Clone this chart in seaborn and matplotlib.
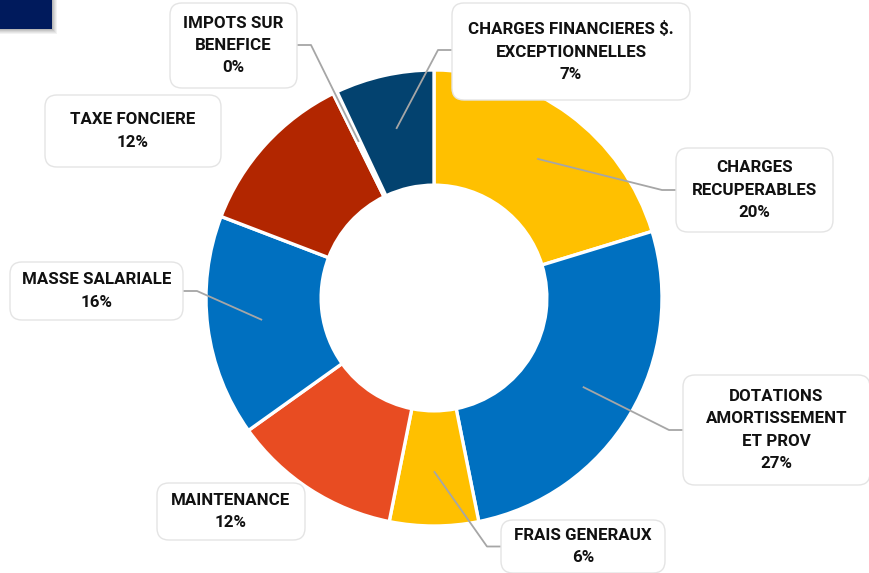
import matplotlib
matplotlib.use("Agg")
import matplotlib.pyplot as plt
from matplotlib.patches import FancyBboxPatch, Rectangle
import numpy as np
import seaborn as sns

categories = ["CHARGES\nRECUPERABLES", "DOTATIONS\nAMORTISSEMENT\nET PROV", "FRAIS GENERAUX",
              "MAINTENANCE", "MASSE SALARIALE", "TAXE FONCIERE", "IMPOTS SUR\nBENEFICE",
              "CHARGES FINANCIERES $.\nEXCEPTIONNELLES"]
values = [20.3, 26.6, 6.3, 12.0, 15.7, 11.9, 0.3, 7.0]
colors = ["#FFC000", "#0070C0", "#FFC000", "#E84C22", "#0070C0", "#B22600", "#FFFFFF", "#03426F"]

# layout: box (x0, y0, x1, y1) in pixels from top-left, and leader flag
boxes = [(676, 148, 833, 232), (683, 375, 870, 485), (501, 520, 665, 573),
         (157, 483, 305, 540), (10, 262, 183, 320), (45, 95, 221, 167),
         (170, 3, 297, 88), (452, 3, 690, 100)]
leader = [True, True, True, False, True, False, True, True]

sns.set_theme(style="white")
plt.rcParams['font.family'] = ['Roboto', 'DejaVu Sans']

W, H = 870, 573
fig = plt.figure(figsize=(W / 100, H / 100), dpi=100)
ax = fig.add_axes([0, 0, 1, 1])

cx, cy = 434, H - 298
R = 228
wedges, _ = ax.pie(values, colors=colors, startangle=90, counterclock=False,
                   radius=R, center=(cx, cy), frame=True,
                   wedgeprops=dict(width=R * 0.505, edgecolor="white", linewidth=2.4))
ax.set_xlim(0, W)
ax.set_ylim(0, H)
ax.set_aspect("equal")
ax.axis("off")

# top-left decorative block with shadow
for i, a in enumerate([0.05, 0.05, 0.06, 0.07, 0.08]):
    off = 5 - i
    fig.patches.append(Rectangle((-10 / W, 1 - (29 + off) / H), (62 + off) / W, (30 + off) / H,
                                 transform=fig.transFigure, facecolor="black", alpha=a, edgecolor="none"))
fig.patches.append(Rectangle((-10 / W, 1 - 29 / H), 62 / W, 30 / H,
                             transform=fig.transFigure, facecolor="#001A5C", edgecolor="none"))

total = sum(values)
for w, cat, v, b, ld in zip(wedges, categories, values, boxes, leader):
    x0, y0, x1, y1 = b
    bx, by = x0, H - y1
    bw, bh = x1 - x0, y1 - y0
    ax.add_patch(FancyBboxPatch((bx + 8, by + 8), bw - 16, bh - 16,
                                boxstyle="round,pad=8,rounding_size=12",
                                facecolor="white", edgecolor="#E4E4E4", linewidth=1.0, zorder=4))
    tcx, tcy = (x0 + x1) / 2, H - (y0 + y1) / 2
    ax.text(tcx, tcy, f"{cat}\n{v / total * 100:.0f}%", ha="center", va="center",
            fontsize=12.2, fontweight="bold", color="#111111", linespacing=1.62, zorder=5)
    if ld:
        ang = np.deg2rad((w.theta1 + w.theta2) / 2)
        r0 = R * 0.76
        px, py = cx + r0 * np.cos(ang), cy + r0 * np.sin(ang)
        side = 1 if tcx > cx else -1
        ex = x0 if side > 0 else x1
        ey = tcy
        if y0 < 20:
            ey = H - 45 if side < 0 else H - 50
        kx = ex - side * 14
        ax.plot([px, kx, ex], [py, ey, ey], color="#A6A6A6", linewidth=1.3, zorder=3,
                solid_capstyle="butt")

fig.savefig("out.png", dpi=100)
